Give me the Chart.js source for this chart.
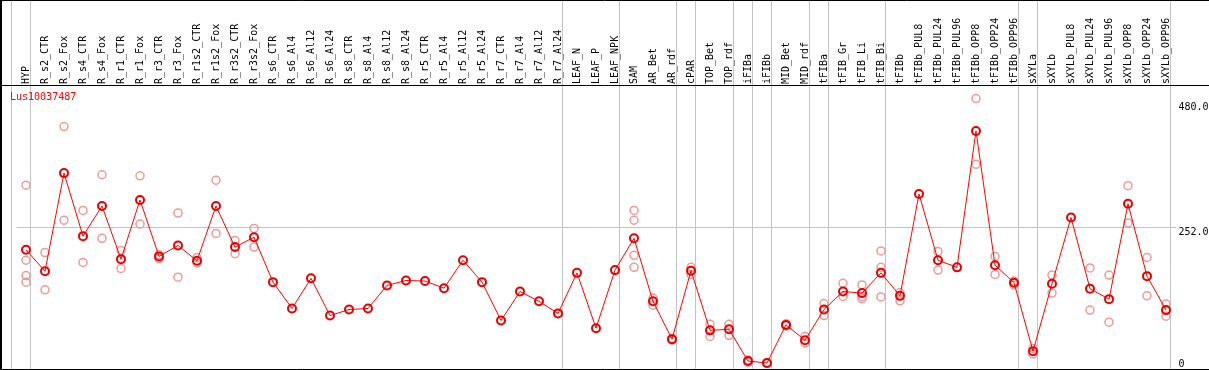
<!DOCTYPE html>
<html>
<head>
<meta charset="utf-8">
<script src="https://cdn.jsdelivr.net/npm/chart.js@4.4.1/dist/chart.umd.min.js"></script>
<style>
  body { margin: 0; background: #fff; }
  #wrap { width: 1209px; height: 370px; }
</style>
</head>
<body>
<div id="wrap"><canvas id="myChart"></canvas></div>
<script>
const geneName = 'Lus10037487';
const categories = ['HYP', 'R_s2_CTR', 'R_s2_Fox', 'R_s4_CTR', 'R_s4_Fox', 'R_r1_CTR', 'R_r1_Fox', 'R_r3_CTR', 'R_r3_Fox',
  'R_r1s2_CTR', 'R_r1s2_Fox', 'R_r3s2_CTR', 'R_r3s2_Fox', 'R_s6_CTR', 'R_s6_Al4', 'R_s6_Al12', 'R_s6_Al24',
  'R_s8_CTR', 'R_s8_Al4', 'R_s8_Al12', 'R_s8_Al24', 'R_r5_CTR', 'R_r5_Al4', 'R_r5_Al12', 'R_r5_Al24',
  'R_r7_CTR', 'R_r7_Al4', 'R_r7_Al12', 'R_r7_Al24', 'LEAF_N', 'LEAF_P', 'LEAF_NPK', 'SAM', 'AR_Bet', 'AR_rdf',
  'cPAR', 'TOP_Bet', 'TOP_rdf', 'iFIBa', 'iFIBb', 'MID_Bet', 'MID_rdf', 'tFIBa', 'tFIB_Gr', 'tFIB_Li', 'tFIB_Bi',
  'tFIBb', 'tFIBb_PUL8', 'tFIBb_PUL24', 'tFIBb_PUL96', 'tFIBb_OPP8', 'tFIBb_OPP24', 'tFIBb_OPP96',
  'sXYLa', 'sXYLb', 'sXYLb_PUL8', 'sXYLb_PUL24', 'sXYLb_PUL96', 'sXYLb_OPP8', 'sXYLb_OPP24', 'sXYLb_OPP96'];

// mean expression per sample
const means = [212, 173, 352, 237, 292, 195, 303, 200, 220, 192, 292, 217, 235, 153, 105, 160, 92,
  103, 105, 147, 156, 155, 142, 193, 153, 83, 136, 118, 96, 170, 69, 175, 233, 118, 49,
  174, 65, 67, 9, 5.5, 75, 47, 103, 136, 133, 170, 128, 314, 193, 180, 429, 184, 152,
  27, 150, 271, 141, 122, 296, 164, 102];

// individual replicates (null = none)
const repA = [330, 207, 437, 284, 349, 211, 347, 203, 279, 198, 339, 229, 251, null, null, null, null,
  null, null, null, null, null, null, null, null, null, null, null, null, null, null, null, 284, 124, 50,
  180, 76, 76, 11, 6.5, 77, 54, 114, 151, 148, 210, 134, null, 209, null, 488, 200, 155,
  32, 166, null, 179, 166, 329, 198, 113];
const repB = [193, 139, 266, 189, 233, 178, 259, 196, 162, 188, 242, 205, 217, null, null, null, null,
  null, null, null, null, null, null, null, null, null, null, null, null, null, null, null, 266, 111, 47,
  167, 54, 56, 7, 4.5, 73, 42, 92, 127, 127, 180, 119, null, 175, null, 368, 167, 148,
  22, 133, null, 102, 80, 261, 128, 91];
const repC = [165, null, null, null, null, null, null, null, null, null, null, null, null, null, null, null, null,
  null, null, null, null, null, null, null, null, null, null, null, null, null, null, null, 202, null, null,
  null, null, null, null, null, null, null, null, null, 123, 126, null, null, null, null, null, null, null,
  null, null, null, null, null, null, null, null];
const repD = [153, null, null, null, null, null, null, null, null, null, null, null, null, null, null, null, null,
  null, null, null, null, null, null, null, null, null, null, null, null, null, null, null, 180, null, null,
  null, null, null, null, null, null, null, null, null, null, null, null, null, null, null, null, null, null,
  null, null, null, null, null, null, null, null];

const yTicks = [0, 252, 480];
// a grey separator is drawn after these samples ('' = before the first one)
const groupEnds = ['', 'HYP', 'R_r7_Al24', 'LEAF_NPK', 'AR_rdf', 'cPAR', 'TOP_rdf', 'iFIBa', 'iFIBb',
  'MID_rdf', 'tFIBa', 'tFIB_Bi', 'tFIBb_OPP96', 'sXYLa', 'sXYLb_OPP96'];

const monoFont = { family: 'DejaVu Sans Mono', size: 10 };

const repSets = [repA, repB, repC, repD].map(function (rep) {
  return {
    data: rep,
    showLine: false,
    pointRadius: 4,
    pointHoverRadius: 4,
    pointBorderWidth: 1.5,
    pointBorderColor: '#ee9a9a',
    pointBackgroundColor: 'rgba(0,0,0,0)',
    clip: false,
    order: 2
  };
});

const framePlugin = {
  id: 'frame',
  beforeDraw: function (chart) {
    const ctx = chart.ctx;
    const x = chart.scales.x;
    ctx.save();
    ctx.strokeStyle = '#c4c4c4';
    ctx.lineWidth = 1;
    groupEnds.forEach(function (name) {
      const i = name === '' ? -1 : categories.indexOf(name);
      const px = Math.floor(x.getPixelForValue(i) + 4.5) + 0.5;
      ctx.beginPath();
      ctx.moveTo(px, 0);
      ctx.lineTo(px, chart.height);
      ctx.stroke();
    });
    ctx.restore();
  },
  afterDraw: function (chart) {
    const ctx = chart.ctx;
    const area = chart.chartArea;
    ctx.save();
    ctx.strokeStyle = '#000';
    ctx.lineWidth = 1;
    ctx.beginPath();
    ctx.moveTo(0, 0.5); ctx.lineTo(chart.width, 0.5);
    ctx.moveTo(0, area.top - 0.5); ctx.lineTo(chart.width, area.top - 0.5);
    ctx.moveTo(0, area.bottom + 0.5); ctx.lineTo(chart.width, area.bottom + 0.5);
    ctx.stroke();
    ctx.lineWidth = 2;
    ctx.beginPath();
    ctx.moveTo(1, 0); ctx.lineTo(1, chart.height);
    ctx.stroke();
    ctx.fillStyle = '#ff0000';
    ctx.font = '10px "DejaVu Sans Mono"';
    ctx.textBaseline = 'top';
    ctx.fillText(geneName, 10, area.top + 6);
    ctx.restore();
  }
};

const ctx = document.getElementById('myChart').getContext('2d');
const myChart = new Chart(ctx, {
  type: 'line',
  data: {
    labels: categories,
    datasets: [{
      data: means,
      borderColor: '#ff0000',
      borderWidth: 1,
      pointRadius: 4,
      pointHoverRadius: 4,
      pointBorderWidth: 2,
      pointBorderColor: '#e80000',
      pointBackgroundColor: 'rgba(0,0,0,0)',
      tension: 0,
      clip: false,
      order: 1
    }].concat(repSets)
  },
  options: {
    responsive: true,
    maintainAspectRatio: false,
    animation: false,
    events: [],
    layout: { autoPadding: false, padding: { left: 16.5, top: 0, right: 0, bottom: 1 } },
    plugins: { legend: { display: false }, tooltip: { enabled: false } },
    scales: {
      x: {
        position: 'top',
        offset: true,
        grid: { display: false, drawTicks: false },
        border: { display: false },
        afterFit: function (scale) {
          scale.height = 86;
          scale.paddingLeft = 0;
          scale.paddingRight = 0;
        },
        ticks: {
          autoSkip: false,
          minRotation: 90,
          maxRotation: 90,
          padding: 2,
          labelOffset: 12,
          color: '#000',
          font: monoFont
        }
      },
      y: {
        position: 'right',
        min: -5.5,
        max: 511,
        afterFit: function (scale) {
          scale.width = 33.5;
          scale.paddingTop = 0;
          scale.paddingBottom = 0;
        },
        afterBuildTicks: function (scale) {
          scale.ticks = yTicks.map(function (v) { return { value: v }; });
        },
        grid: {
          drawTicks: false,
          color: function (c) { return c.tick && c.tick.value === 252 ? '#c4c4c4' : 'rgba(0,0,0,0)'; }
        },
        border: { display: false },
        ticks: {
          padding: 3,
          labelOffset: 4,
          color: '#000',
          font: monoFont,
          callback: function (v) { return v === 0 ? ['0', ''] : v.toFixed(1); }
        }
      }
    }
  },
  plugins: [framePlugin]
});
</script>
</body>
</html>
